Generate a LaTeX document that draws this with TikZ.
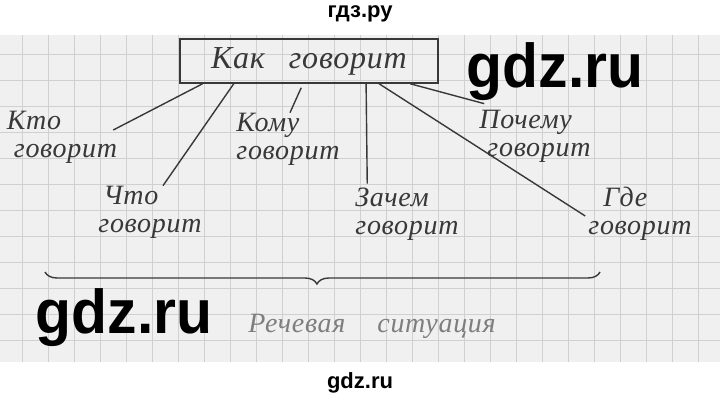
\documentclass[tikz,border=0pt]{standalone}
\usepackage{fontspec}
\setmainfont{Liberation Serif}
\newfontfamily\hand[LetterSpace=2.5]{Liberation Serif}
\newfontfamily\wmfont{Liberation Sans}
\usetikzlibrary{decorations.pathreplacing}
\definecolor{ink}{HTML}{383838}
\definecolor{paper}{HTML}{F0F0F0}
\definecolor{cell}{HTML}{D0D0D0}
\tikzstyle{topic} = [rectangle, draw=ink, line width=1.5pt, minimum width=258pt,
    minimum height=44pt, inner sep=0pt, text=ink,
    font=\hand\itshape\fontsize{32}{32}\selectfont]
\tikzstyle{hand} = [text=ink, align=left, inner sep=0pt,
    font=\hand\itshape\fontsize{28}{28}\selectfont]
\tikzstyle{link} = [draw=ink, line width=1.4pt]
\tikzstyle{wmark} = [text=black, inner sep=0pt, xscale=0.95,
    font=\wmfont\bfseries\fontsize{62}{62}\selectfont]
\tikzstyle{site} = [text=black, inner sep=0pt,
    font=\wmfont\bfseries\fontsize{22}{22}\selectfont]

\begin{document}
\begin{tikzpicture}[x=1pt,y=-1pt]
                \useasboundingbox (0,0) rectangle (720,401);
                \fill[white] (0,0) rectangle (720,401);
                % sheet of squared paper
                \fill[paper] (0,35) rectangle (720,362);
                \foreach \x in {22,48,...,710} \draw[cell, line width=0.6pt] (\x,35) -- (\x,362);
                \foreach \y in {54,80,...,340} \draw[cell, line width=0.6pt] (0,\y) -- (720,\y);
                \node (site) [site] at (360,14) {гдз.ру};
                \node (site2) [site] at (360,383) {gdz.ru};
                % the question and its parts
                \node (kak) [topic] at (309,61) {\raisebox{-5pt}{Как\hspace{24pt}говорит}};
                \node (kto) [hand] at (62,137) {Кто\\\hspace{7pt}говорит};
                \node (komu) [hand] at (288,139) {Кому\\говорит};
                \node (pochemu) [hand] at (535,136) {Почему\\\hspace{8pt}говорит};
                \node (chto) [hand] at (150,212) {\hspace{5pt}Что\\говорит};
                \node (zachem) [hand] at (407,214) {Зачем\\говорит};
                \node (gde) [hand] at (640,214) {\hspace{15pt}Где\\говорит};
                \path (kak.south west) -- (kak.south east)
                    coordinate[pos=0.09] (k1) coordinate[pos=0.21] (k2)
                    coordinate[pos=0.47] (k3) coordinate[pos=0.72] (k4)
                    coordinate[pos=0.77] (k5) coordinate[pos=0.89] (k6);
                \draw [link] (k1) -- ([shift={(-4,-7)}]kto.east);
                \draw [link] (k2) -- ([shift={(13,0)}]chto.north);
                \draw [link] ([shift={(0,4)}]k3) -- ([shift={(2,0)}]komu.north);
                \draw [link] (k4) -- ([shift={(12,-4)}]zachem.north west);
                \draw [link] (k5) -- ([shift={(-3,2)}]gde.west);
                \draw [link] (k6) -- ([shift={(5,-6)}]pochemu.north west);
                % all of it together
                \draw [link, decorate, decoration={brace, mirror, amplitude=12pt, aspect=0.49}]
                    (45,272) -- (600,272);
                \node (situation) [hand, text=ink!65] at (372,326) {Речевая\hspace{32pt}ситуация};
                \node (wm1) [wmark] at (555,72) {gdz.ru};
                \node (wm2) [wmark] at (124,318) {gdz.ru};
            \end{tikzpicture}
\end{document}
